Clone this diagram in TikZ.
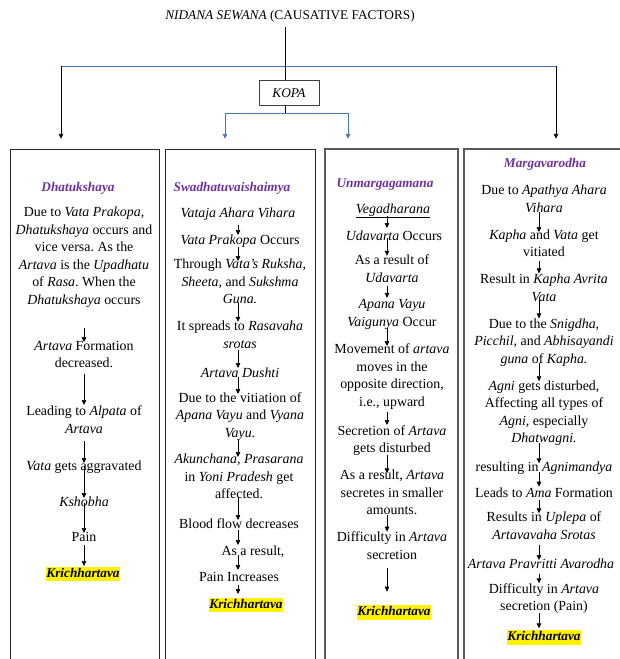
\documentclass[tikz,border=0pt]{standalone}
\usepackage{fontspec}
\setmainfont{Liberation Serif}
\usetikzlibrary{arrows.meta}
\definecolor{hpurple}{HTML}{7030A0}
\definecolor{wblue}{HTML}{4472C4}
\newcommand\myBody{\fontsize{13.9}{17.5}\selectfont}
\newcommand\myHead{\fontsize{13.3}{17.5}\selectfont}
\newcommand\myTitle{\fontsize{13.3}{15}\selectfont}
\frenchspacing
\begin{document}
\begin{tikzpicture}[x=1pt,y=-1pt,
  txt/.style={font=\myBody, align=center, inner sep=0pt, anchor=north,
    execute at begin node=\strut, execute at end node=\strut},
  hd/.style={txt, text=hpurple, font=\myHead\bfseries\itshape},
  hl/.style={font=\myHead\bfseries\itshape, fill=yellow, inner xsep=0.5pt,
    inner ysep=0pt, text height=10.5pt, text depth=4pt, anchor=north},
  arr/.style={draw=black, line width=0.7pt, -{Triangle[length=5pt,width=4.5pt]}},
  tarr/.style={draw=black, line width=0.9pt, -{Triangle[length=5pt,width=4.5pt]}},
  barr/.style={draw=wblue, line width=0.9pt, -{Triangle[length=5pt,width=4.5pt]}},
  bline/.style={draw=wblue, line width=1pt},
  kline/.style={draw=black, line width=0.9pt},
  boxA/.style={draw=black!85, line width=1pt},
  boxB/.style={draw=black!65, line width=1.3pt},
]
\useasboundingbox (0,0) rectangle (620,659);
\fill[white] (0,0) rectangle (620,659);

% ---------- top part ----------
\node[font=\myTitle, inner sep=2pt] (ttl) at (290,16) {\textit{NIDANA SEWANA} (CAUSATIVE FACTORS)};
\node[draw=black!75, line width=1pt, minimum width=60pt, minimum height=24.4pt, inner sep=0pt,
      font=\myTitle\itshape] (kopa) at (289,92.8) {KOPA};
\coordinate (kx) at (285,0);
\coordinate (bl) at (61,66.4);
\coordinate (br) at (556,66.4);
\coordinate (kb) at (285,113.4);
\coordinate (bl2) at (225,113.4);
\coordinate (br2) at (348,113.4);
\coordinate (B1) at (84.5,149);
\coordinate (B2) at (240,149);
\coordinate (B3) at (391.5,149);
\coordinate (B4) at (541,149);

\draw[bline] (bl) -- (br);
\draw[kline, shorten <=3pt] (ttl.south -| kx) -- (kopa.north -| kx);
\draw[tarr, shorten >=10.2pt] (bl) -- (bl |- B1);
\draw[tarr, shorten >=10.2pt] (br) -- (br |- B4);
\draw[kline] (kopa.south -| kx) -- (kb);
\draw[bline] (bl2) -- (br2);
\draw[barr, shorten >=10.2pt] (bl2) -- (bl2 |- B2);
\draw[barr, shorten >=10.2pt] (br2) -- (br2 |- B3);

% ---------- boxes ----------
\draw[boxA] (10,659) |- (159,149) -- (159,659);
\draw[boxA] (165,659) |- (315,149) -- (315,659);
\draw[boxB] (325,659) |- (458,149) -- (458,659);
\draw[boxB] (464,659) |- (622,149);

% ---------- column 1 ----------
\coordinate (ax1) at (84,0);
\node[hd] (h1) at (78,178.75) {Dhatukshaya};
\node[txt] (n1a) at (84,206.75) {Due to \textit{Vata Prakopa,}\\ \textit{Dhatukshaya} occurs and\\ vice versa. As the\\ \textit{Artava} is the \textit{Upadhatu}\\ of \textit{Rasa}. When the\\ \textit{Dhatukshaya} occurs};
\node[txt] (n1b) at (84,340.75) {\textit{Artava} Formation\\ decreased.};
\node[txt] (n1c) at (84,405.75) {Leading to \textit{Alpata} of\\ \textit{Artava}};
\node[txt] (n1d) at (84,458.25) {\textit{Vata} gets aggravated};
\node[txt] (n1e) at (84,493.75) {\textit{Kshobha}};
\node[txt] (n1f) at (84,528.75) {Pain};
\node[hl] (k1) at (83,566.5) {Krichhartava};
\draw[arr, shorten <=18.25pt, shorten >=-1.25pt] (n1a.south -| ax1) -- (n1b.north -| ax1);
\draw[arr, shorten <=0.75pt, shorten >=0.75pt] (n1b.south -| ax1) -- (n1c.north -| ax1);
\draw[arr, shorten <=2.25pt, shorten >=-4.75pt] (n1c.south -| ax1) -- (n1d.north -| ax1);
\draw[arr, shorten <=-9.75pt, shorten >=-4.25pt] (n1d.south -| ax1) -- (n1e.north -| ax1);
\draw[arr, shorten <=-8.25pt, shorten >=-4.25pt] (n1e.south -| ax1) -- (n1f.north -| ax1);
\draw[arr, shorten <=-1.25pt, shorten >=0.5pt] (n1f.south -| ax1) -- (k1.north -| ax1);

% ---------- column 2 ----------
\coordinate (ax2) at (238,0);
\node[hd] (h2) at (232,178.75) {Swadhatuvaishaimya};
\node[txt] (n2a) at (238,204.75) {\textit{Vataja Ahara Vihara}};
\node[txt] (n2b) at (240,231.75) {\textit{Vata Prakopa} Occurs};
\node[txt] (n2c) at (240,258.75) {Through \textit{Vata's Ruksha,}\\ \textit{Sheeta}, and \textit{Sukshma}\\ \textit{Guna.}};
\node[txt] (n2d) at (240,320.75) {It spreads to \textit{Rasavaha}\\ \textit{srotas}};
\node[txt] (n2e) at (240,365.25) {\textit{Artava Dushti}};
\node[txt] (n2f) at (240,392.25) {Due to the vitiation of\\ \textit{Apana Vayu} and \textit{Vyana}\\ \textit{Vayu.}};
\node[txt] (n2g) at (239,453.75) {\textit{Akunchana, Prasarana}\\ in \textit{Yoni Pradesh} get\\ affected.};
\node[txt] (n2h) at (239,515.75) {Blood flow decreases};
\node[txt] (n2i) at (253,543.25) {As a result,};
\node[txt] (n2j) at (239,568.75) {Pain Increases};
\node[hl] (k2) at (246,597.5) {Krichhartava};
\draw[arr, shorten <=2.75pt, shorten >=-3.25pt] (n2a.south -| ax2) -- (n2b.north -| ax2);
\draw[arr, shorten <=-2.25pt, shorten >=-2.25pt] (n2b.south -| ax2) -- (n2c.north -| ax2);
\draw[arr, shorten <=-5.65pt, shorten >=-1.05pt] (n2c.south -| ax2) -- (n2d.north -| ax2);
\draw[arr, shorten <=-3.75pt, shorten >=-2.75pt] (n2d.south -| ax2) -- (n2e.north -| ax2);
\draw[arr, shorten <=-5.75pt, shorten >=-1.75pt] (n2e.south -| ax2) -- (n2f.north -| ax2);
\draw[arr, shorten <=-3pt, shorten >=-3.25pt] (n2f.south -| ax2) -- (n2g.north -| ax2);
\draw[arr, shorten <=-6.25pt, shorten >=-4.25pt] (n2g.south -| ax2) -- (n2h.north -| ax2);
\draw[arr, shorten <=-3.25pt, shorten >=-1.75pt] (n2h.south -| ax2) -- (n2i.north -| ax2);
\draw[arr, shorten <=-5.75pt, shorten >=-1.25pt] (n2i.south -| ax2) -- (n2j.north -| ax2);
\draw[arr, shorten <=-1.25pt, shorten >=3.5pt] (n2j.south -| ax2) -- (k2.north -| ax2);

% ---------- column 3 ----------
\coordinate (ax3) at (387,0);
\node[hd] (h3) at (385,174.75) {Unmargagamana};
\node[txt] (n3a) at (393,200.75) {\underline{\textit{Vegadharana}}};
\node[txt] (n3b) at (394,227.75) {\textit{Udavarta} Occurs};
\node[txt] (n3c) at (392,254.75) {As a result of\\ \textit{Udavarta}};
\node[txt] (n3d) at (392,299.25) {\textit{Apana Vayu}\\ \textit{Vaigunya} Occur};
\node[txt] (n3e) at (392,343.75) {Movement of \textit{artava}\\ moves in the\\ opposite direction,\\ i.e., upward};
\node[txt] (n3f) at (392,425.25) {Secretion of \textit{Artava}\\ gets disturbed};
\node[txt] (n3g) at (392,469.75) {As a result, \textit{Artava}\\ secretes in smaller\\ amounts.};
\node[txt] (n3h) at (392,531.75) {Difficulty in \textit{Artava}\\ secretion};
\node[hl] (k3) at (394,605) {Krichhartava};
\draw[arr, shorten <=-2.75pt, shorten >=-0.25pt] (n3a.south -| ax3) -- (n3b.north -| ax3);
\draw[arr, shorten <=-7.45pt, shorten >=-1.05pt] (n3b.south -| ax3) -- (n3c.north -| ax3);
\draw[arr, shorten <=-1.55pt, shorten >=1.35pt] (n3c.south -| ax3) -- (n3d.north -| ax3);
\draw[arr, shorten <=-3.25pt, shorten >=-2.25pt] (n3d.south -| ax3) -- (n3e.north -| ax3);
\draw[arr, shorten <=0.25pt, shorten >=0.25pt] (n3e.south -| ax3) -- (n3f.north -| ax3);
\draw[arr, shorten <=-3.55pt, shorten >=-3.55pt] (n3f.south -| ax3) -- (n3g.north -| ax3);
\draw[arr, shorten <=-5.55pt, shorten >=0.05pt] (n3g.south -| ax3) -- (n3h.north -| ax3);
\draw[arr, shorten <=3.25pt, shorten >=13.3pt] (n3h.south -| ax3) -- (k3.north -| ax3);

% ---------- column 4 ----------
\coordinate (ax4) at (539,0);
\node[hd] (h4) at (545,154.75) {Margavarodha};
\node[txt] (n4a) at (544,184.75) {Due to \textit{Apathya Ahara}\\ \textit{Vihara}};
\node[txt] (n4b) at (544,229.25) {\textit{Kapha} and \textit{Vata} get\\ vitiated};
\node[txt] (n4c) at (544,273.75) {Result in \textit{Kapha Avrita}\\ \textit{Vata}};
\node[txt] (n4d) at (544,318.25) {Due to the \textit{Snigdha,}\\ \textit{Picchil}, and \textit{Abhisayandi}\\ \textit{guna} of \textit{Kapha.}};
\node[txt] (n4e) at (544,380.25) {\textit{Agni} gets disturbed,\\ Affecting all types of\\ \textit{Agni}, especially\\ \textit{Dhatwagni.}};
\node[txt] (n4f) at (544,459.25) {resulting in \textit{Agnimandya}};
\node[txt] (n4g) at (544,485.25) {Leads to \textit{Ama} Formation};
\node[txt] (n4h) at (544,511.75) {Results in \textit{Uplepa} of\\ \textit{Artavavaha Srotas}};
\node[txt] (n4i) at (541,556.25) {\textit{Artava Pravritti Avarodha}};
\node[txt] (n4j) at (544,583.25) {Difficulty in \textit{Artava}\\ secretion (Pain)};
\node[hl] (k4) at (544,630) {Krichhartava};
\draw[arr, shorten <=-5.75pt, shorten >=-2.75pt] (n4a.south -| ax4) -- (n4b.north -| ax4);
\draw[arr, shorten <=-0.85pt, shorten >=0.35pt] (n4b.south -| ax4) -- (n4c.north -| ax4);
\draw[arr, shorten <=-6.05pt, shorten >=-0.15pt] (n4c.south -| ax4) -- (n4d.north -| ax4);
\draw[arr, shorten <=-5.95pt, shorten >=-1.05pt] (n4d.south -| ax4) -- (n4e.north -| ax4);
\draw[arr, shorten <=-5.25pt, shorten >=-4.05pt] (n4e.south -| ax4) -- (n4f.north -| ax4);
\draw[arr, shorten <=-5.05pt, shorten >=-1.45pt] (n4f.south -| ax4) -- (n4g.north -| ax4);
\draw[arr, shorten <=-2.75pt, shorten >=-1.55pt] (n4g.south -| ax4) -- (n4h.north -| ax4);
\draw[arr, shorten <=-0.05pt, shorten >=-3.75pt] (n4h.south -| ax4) -- (n4i.north -| ax4);
\draw[arr, shorten <=-0.45pt, shorten >=-0.05pt] (n4i.south -| ax4) -- (n4j.north -| ax4);
\draw[arr, shorten <=-3.25pt, shorten >=1.7pt] (n4j.south -| ax4) -- (k4.north -| ax4);
\end{tikzpicture}
\end{document}
